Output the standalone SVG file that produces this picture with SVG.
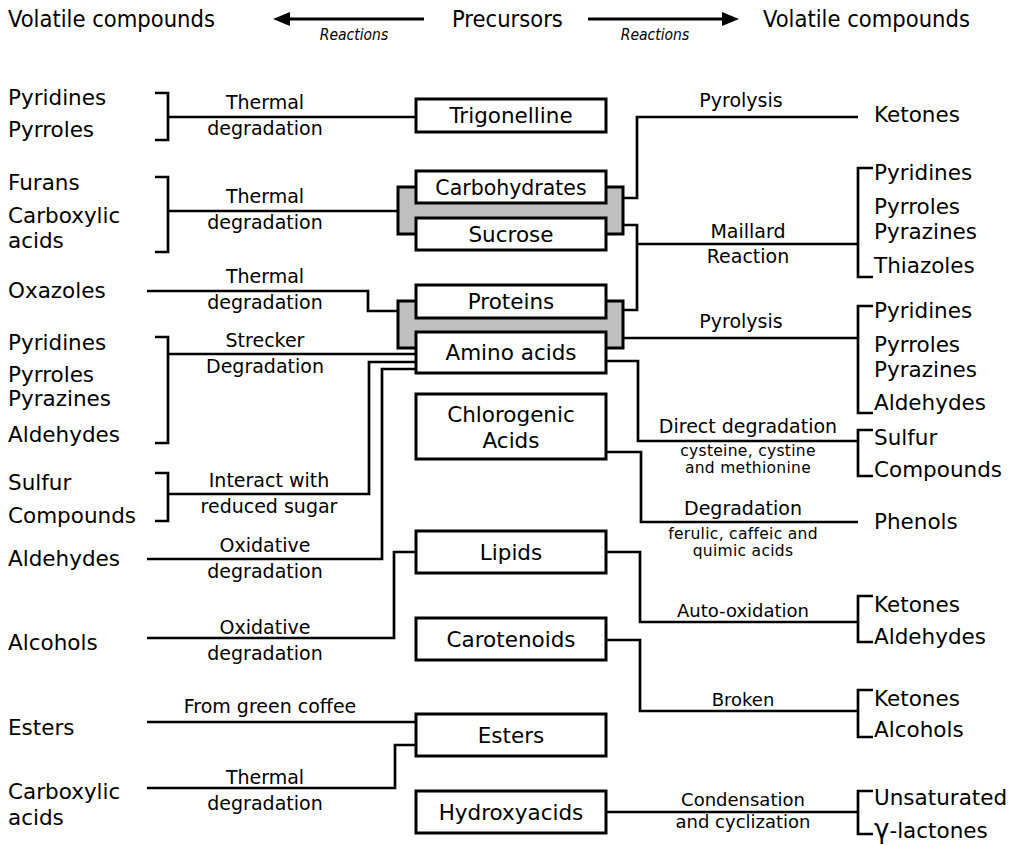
<svg xmlns="http://www.w3.org/2000/svg" width="1013" height="845" viewBox="0 0 1013 845">
<style>
text{font-family:"DejaVu Sans","Liberation Sans",sans-serif;fill:#000}
.h{font-family:"DejaVu Sans Condensed","DejaVu Sans",sans-serif;font-size:23.5px}
.r{font-family:"DejaVu Sans Condensed","DejaVu Sans",sans-serif;font-size:15.5px;font-style:italic;text-anchor:middle}
.t{font-size:21.5px}
.b{font-size:21.5px;text-anchor:middle}
.l{font-size:19px;text-anchor:middle}
.s{font-size:15.5px;text-anchor:middle;letter-spacing:0.3px}
.box{fill:#fff;stroke:#000;stroke-width:3}
.grp{fill:#c0c0c0;stroke:#000;stroke-width:3}
.c path{fill:none;stroke:#000;stroke-width:2.7}
</style>
<rect width="1013" height="845" fill="#fff"/>
<g id="header">
<text class="h" x="8" y="27">Volatile compounds</text>
<text class="h" x="452" y="27">Precursors</text>
<text class="h" x="763" y="27">Volatile compounds</text>
<line x1="424" y1="19" x2="288" y2="19" stroke="#000" stroke-width="3"/>
<polygon points="273,19 290,12 290,26" fill="#000"/>
<line x1="588" y1="19" x2="724" y2="19" stroke="#000" stroke-width="3"/>
<polygon points="739,19 722,12 722,26" fill="#000"/>
<text class="r" x="354" y="40">Reactions</text>
<text class="r" x="655" y="40">Reactions</text>
</g>
<g id="groups">
<rect class="grp" x="398" y="187" width="225" height="47"/>
<rect class="grp" x="398" y="301" width="225" height="47"/>
</g>
<g class="c" id="connectors">
<path d="M155,93H168V140H155M168,117H416"/>
<path d="M155,177H168V252H155M168,211H398"/>
<path d="M147,291H368V311H398"/>
<path d="M155,337H168V443H155M168,354H416"/>
<path d="M155,473H168V521H155M168,494H369V362H416"/>
<path d="M147,559H382V369H416"/>
<path d="M147,638H394V552H416"/>
<path d="M147,722H416"/>
<path d="M147,788H395V745H416"/>
<path d="M623,198H637V117H858"/>
<path d="M623,225H637V310H623M637,244H858"/>
<path d="M873,168H858V277H873"/>
<path d="M623,338H858M873,306H858V413H873"/>
<path d="M606,361H638V441H858M873,430H858V476H873"/>
<path d="M606,452H641V522H858"/>
<path d="M606,552H640V622H858M873,596H858V642H873"/>
<path d="M606,640H640V711H858M873,690H858V737H873"/>
<path d="M606,812H858M873,791H858V834H873"/>
</g>
<g id="n-trigonelline"><rect class="box" x="416" y="99" width="190" height="33"/><text class="b" x="511" y="123">Trigonelline</text></g>
<g id="n-carbohydrates"><rect class="box" x="416" y="171" width="190" height="32"/><text class="b" x="511" y="195" style="font-size:20.5px">Carbohydrates</text></g>
<g id="n-sucrose"><rect class="box" x="416" y="218" width="190" height="32"/><text class="b" x="511" y="242">Sucrose</text></g>
<g id="n-proteins"><rect class="box" x="416" y="285" width="190" height="33"/><text class="b" x="511" y="309">Proteins</text></g>
<g id="n-amino"><rect class="box" x="416" y="332" width="190" height="41"/><text class="b" x="511" y="360">Amino acids</text></g>
<g id="n-chlorogenic"><rect class="box" x="416" y="394" width="190" height="65"/><text class="b" x="511" y="422">Chlorogenic</text><text class="b" x="511" y="448">Acids</text></g>
<g id="n-lipids"><rect class="box" x="416" y="531" width="190" height="42"/><text class="b" x="511" y="560">Lipids</text></g>
<g id="n-carotenoids"><rect class="box" x="416" y="618" width="190" height="42"/><text class="b" x="511" y="647">Carotenoids</text></g>
<g id="n-esters"><rect class="box" x="416" y="714" width="190" height="42"/><text class="b" x="511" y="743">Esters</text></g>
<g id="n-hydroxyacids"><rect class="box" x="416" y="791" width="190" height="42"/><text class="b" x="511" y="820">Hydroxyacids</text></g>
<g id="left-products">
<text class="t" x="8" y="105">Pyridines</text>
<text class="t" x="8" y="137">Pyrroles</text>
<text class="t" x="8" y="190">Furans</text>
<text class="t" x="8" y="223">Carboxylic</text>
<text class="t" x="8" y="248">acids</text>
<text class="t" x="8" y="298">Oxazoles</text>
<text class="t" x="8" y="350">Pyridines</text>
<text class="t" x="8" y="382">Pyrroles</text>
<text class="t" x="8" y="406">Pyrazines</text>
<text class="t" x="8" y="442">Aldehydes</text>
<text class="t" x="8" y="490">Sulfur</text>
<text class="t" x="8" y="523">Compounds</text>
<text class="t" x="8" y="566">Aldehydes</text>
<text class="t" x="8" y="650">Alcohols</text>
<text class="t" x="8" y="735">Esters</text>
<text class="t" x="8" y="799">Carboxylic</text>
<text class="t" x="8" y="825">acids</text>
</g>
<g id="left-labels">
<text class="l" x="265" y="109">Thermal</text>
<text class="l" x="265" y="135">degradation</text>
<text class="l" x="265" y="203">Thermal</text>
<text class="l" x="265" y="229">degradation</text>
<text class="l" x="265" y="283">Thermal</text>
<text class="l" x="265" y="309">degradation</text>
<text class="l" x="265" y="347">Strecker</text>
<text class="l" x="265" y="373">Degradation</text>
<text class="l" x="269" y="487">Interact with</text>
<text class="l" x="269" y="513">reduced sugar</text>
<text class="l" x="265" y="552">Oxidative</text>
<text class="l" x="265" y="578">degradation</text>
<text class="l" x="265" y="634">Oxidative</text>
<text class="l" x="265" y="660">degradation</text>
<text class="l" x="270" y="713">From green coffee</text>
<text class="l" x="265" y="784">Thermal</text>
<text class="l" x="265" y="810">degradation</text>
</g>
<g id="right-labels">
<text class="l" x="741" y="107">Pyrolysis</text>
<text class="l" x="748" y="238">Maillard</text>
<text class="l" x="748" y="263">Reaction</text>
<text class="l" x="741" y="328">Pyrolysis</text>
<text class="l" x="748" y="433">Direct degradation</text>
<text class="s" x="748" y="456">cysteine, cystine</text>
<text class="s" x="748" y="473">and methionine</text>
<text class="l" x="743" y="515">Degradation</text>
<text class="s" x="743" y="539">ferulic, caffeic and</text>
<text class="s" x="743" y="556">quimic acids</text>
<text class="l" x="743" y="617" style="font-size:18px">Auto-oxidation</text>
<text class="l" x="743" y="706" style="font-size:18px">Broken</text>
<text class="l" x="743" y="806" style="font-size:18px">Condensation</text>
<text class="l" x="743" y="828" style="font-size:18px">and cyclization</text>
</g>
<g id="right-products">
<text class="t" x="874" y="122">Ketones</text>
<text class="t" x="874" y="180">Pyridines</text>
<text class="t" x="874" y="214">Pyrroles</text>
<text class="t" x="874" y="239">Pyrazines</text>
<text class="t" x="874" y="273">Thiazoles</text>
<text class="t" x="874" y="318">Pyridines</text>
<text class="t" x="874" y="352">Pyrroles</text>
<text class="t" x="874" y="377">Pyrazines</text>
<text class="t" x="874" y="410">Aldehydes</text>
<text class="t" x="874" y="445">Sulfur</text>
<text class="t" x="874" y="477">Compounds</text>
<text class="t" x="874" y="529">Phenols</text>
<text class="t" x="874" y="612">Ketones</text>
<text class="t" x="874" y="644">Aldehydes</text>
<text class="t" x="874" y="706">Ketones</text>
<text class="t" x="874" y="737">Alcohols</text>
<text class="t" x="874" y="805">Unsaturated</text>
<text class="t" x="874" y="838"><tspan style="font-size:26px">γ</tspan>-lactones</text>
</g>
</svg>
